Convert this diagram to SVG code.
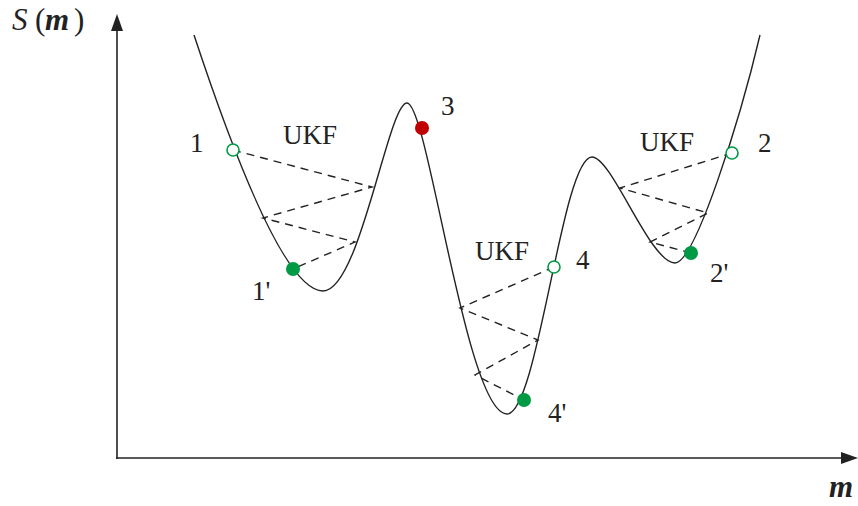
<svg xmlns="http://www.w3.org/2000/svg" width="858" height="506" viewBox="0 0 858 506">
<style>
.t{font-family:"Liberation Serif","Times New Roman",serif;font-size:27px;fill:#222}
.ax{stroke:#222;stroke-width:1.6;fill:none}
.cv{stroke:#222;stroke-width:1.4;fill:none}
.ds{stroke:#222;stroke-width:1.4;fill:none;stroke-dasharray:8 6}
.op{fill:#fff;stroke:#009a45;stroke-width:1.6}
.gf{fill:#009a45}
.rf{fill:#c00000}
.big{font-size:31px}
</style>
<rect width="858" height="506" fill="#fff"/>
<g id="axes">
<line class="ax" x1="117" y1="459" x2="117" y2="28"/>
<polygon points="117,14 111,31 123,31" fill="#222"/>
<line class="ax" x1="116" y1="458" x2="845" y2="458"/>
<polygon points="858,458 841,452 841,464" fill="#222"/>
<text class="t big" y="30"><tspan x="12" font-style="italic">S</tspan><tspan x="35">(</tspan><tspan x="45" font-style="italic" font-weight="bold">m</tspan><tspan x="74">)</tspan></text>
<text class="t big" x="829" y="497" font-style="italic" font-weight="bold">m</text>
</g>
<g id="curve">
<path class="cv" d="M194,35 C232,150 285,291 323,291 C360,291 388,103 407,103 C428,103 466,414 507,414 C538,414 562,157 592,157 C612,157 650,263 675,263 C695,263 740,120 760,35"/>
</g>
<g id="connectors">
<polyline class="ds" points="233,150 372,187 263,218 355,242 293,269"/>
<polyline class="ds" points="554,267 460,308 538,340 475,375 524,400"/>
<polyline class="ds" points="732,153 620,188 708,213 650,242 691,253"/>
</g>
<g id="n1"><circle class="op" cx="233" cy="150" r="6"/><text class="t" x="190" y="152">1</text></g>
<g id="n1p"><circle class="gf" cx="293" cy="269" r="7"/><text class="t" x="252" y="300">1'</text></g>
<g id="n3"><circle class="rf" cx="422" cy="128" r="7"/><text class="t" x="441" y="115">3</text></g>
<g id="n4"><circle class="op" cx="554" cy="267" r="6"/><text class="t" x="576" y="269">4</text></g>
<g id="n4p"><circle class="gf" cx="524" cy="400" r="7"/><text class="t" x="548" y="422">4'</text></g>
<g id="n2"><circle class="op" cx="732" cy="153" r="6"/><text class="t" x="758" y="152">2</text></g>
<g id="n2p"><circle class="gf" cx="691" cy="253" r="7"/><text class="t" x="710" y="282">2'</text></g>
<g id="labels">
<text class="t" x="283" y="144">UKF</text>
<text class="t" x="475" y="260">UKF</text>
<text class="t" x="640" y="151">UKF</text>
</g>
</svg>
